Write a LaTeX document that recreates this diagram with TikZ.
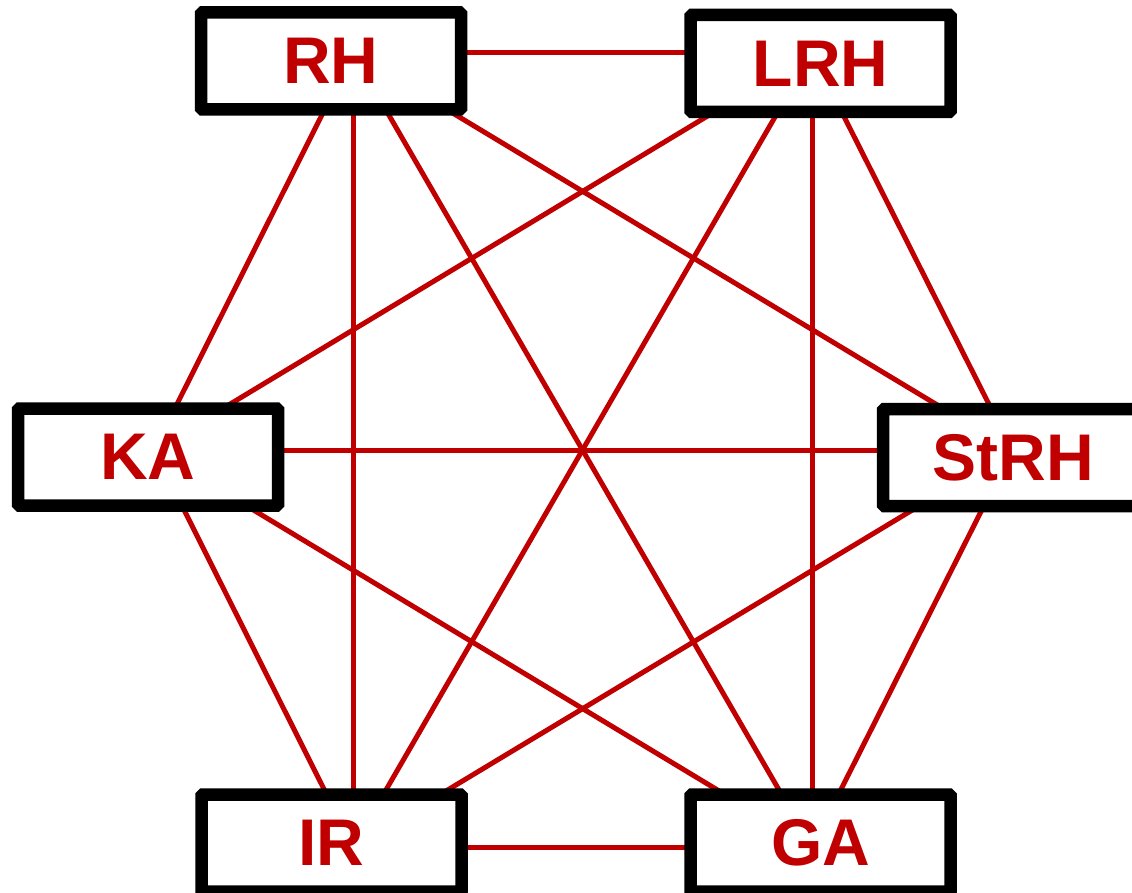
\documentclass[tikz,border=0pt]{standalone}
\usepackage{fontspec}
\setmainfont{Liberation Sans}
\definecolor{edgered}{HTML}{C00000}
\begin{document}
\begin{tikzpicture}[x=1pt,y=-1pt,
  hbox/.style={draw=black, line width=12.5pt, fill=white, rounded corners=1.5pt,
    minimum width=260pt, minimum height=97pt, inner sep=0pt,
    text=edgered, font=\fontsize{66}{78}\selectfont\bfseries},
  link/.style={draw=edgered, line width=5pt}]
\useasboundingbox (0,0) rectangle (1132,893);
% hexagon vertices (connector end points)
\coordinate (vRH) at (353,53);
\coordinate (vLRH) at (812,53);
\coordinate (vKA) at (154,450);
\coordinate (vStRH) at (1012,450);
\coordinate (vIR) at (353,847);
\coordinate (vGA) at (812,847);
% connectors
\foreach \a/\b in {vRH/vLRH, vRH/vKA, vRH/vIR, vRH/vGA, vRH/vStRH,
                   vLRH/vKA, vLRH/vIR, vLRH/vGA, vLRH/vStRH,
                   vKA/vStRH, vKA/vIR, vKA/vGA,
                   vStRH/vIR, vStRH/vGA, vIR/vGA}
  \draw[link] (\a) -- (\b);
% nodes
\node[hbox] (RH) at (331,61) {RH};
\node[hbox] (LRH) at (820.5,63.5) {LRH};
\node[hbox] (KA) at (148,457) {KA};
\node[hbox] (StRH) at (1013,457.5) {StRH};
\node[hbox] (IR) at (331.5,843) {IR};
\node[hbox] (GA) at (820.5,843) {GA};
\end{tikzpicture}
\end{document}
